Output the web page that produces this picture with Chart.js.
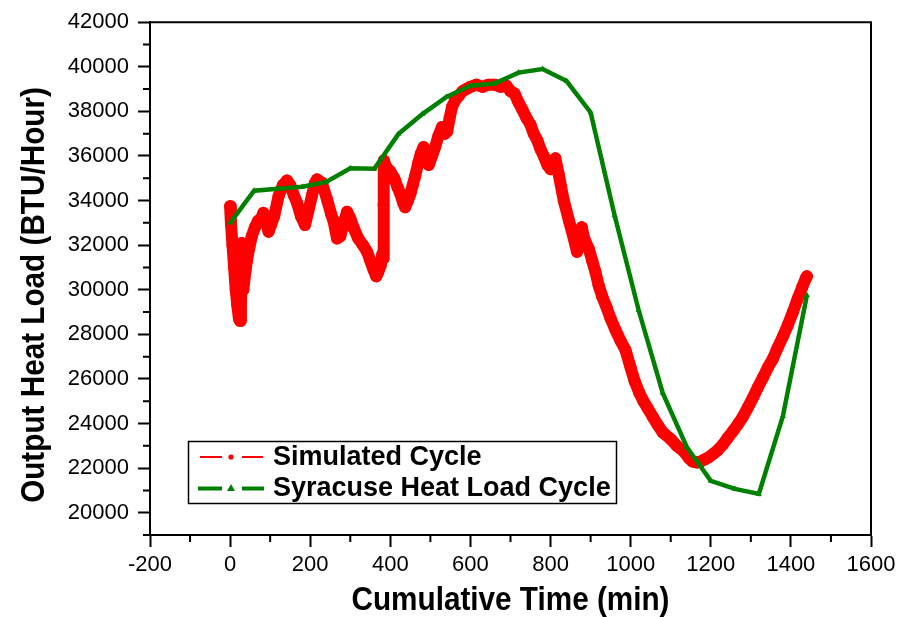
<!DOCTYPE html>
<html>
<head>
<meta charset="utf-8">
<script src="https://cdn.jsdelivr.net/npm/chart.js@4"></script>
<style>
  body { margin: 0; background: #fff; }
  canvas { display: block; }
</style>
</head>
<body>
<canvas id="heatChart" width="901" height="617"></canvas>
<script>
// Syracuse hourly heat load (min, BTU/Hour)
const syrTime = [0, 60, 120, 180, 240, 300, 360, 420, 480, 540, 600, 660, 720,
                 780, 840, 900, 960, 1020, 1080, 1140, 1200, 1260, 1320, 1380, 1440];
const syrLoad = [33000, 34440, 34530, 34620, 34840, 35450, 35430, 36980, 37880, 38650, 39150, 39250, 39740,
                 39900, 39360, 37950, 33330, 29080, 25370, 22950, 21430, 21070, 20840, 24330, 29750];

// Simulated cycle, read along the red band
const simTime = [0, 2, 6, 10, 14, 18, 22, 25, 27, 28, 29, 30, 33, 38, 42, 48, 54, 62, 70, 78,
                 83, 90, 96, 102, 110, 121, 132, 142, 150, 160, 167, 177, 187, 195, 204, 212, 217, 229, 242, 252,
                 258, 267, 275, 284, 292, 300, 310, 320, 332, 342, 350, 358, 365, 370, 376, 380, 382, 383, 384, 390,
                 400, 410, 418, 425, 432, 437, 444, 450, 456, 462, 470, 476, 483, 490, 496, 504, 512, 520, 529, 536,
                 542, 548, 554, 562, 571, 580, 590, 600, 615, 630, 645, 660, 675, 690, 700, 710, 720, 729, 740, 750,
                 758, 767, 775, 783, 792, 800, 805, 812, 820, 833, 846, 858, 866, 872, 878, 884, 896, 904, 912, 920,
                 929, 940, 950, 962, 975, 987, 1000, 1010, 1021, 1032, 1042, 1055, 1067, 1080, 1100, 1115, 1133, 1145, 1154, 1165,
                 1175, 1186, 1196, 1207, 1217, 1230, 1242, 1255, 1267, 1280, 1292, 1305, 1317, 1330, 1342, 1355, 1367, 1380, 1392, 1405,
                 1417, 1428, 1437, 1440];
const simLoad = [33750, 33000, 32000, 31000, 30000, 29300, 28700, 28600, 29500, 30000, 32100, 30200, 30000, 30800, 31300, 31900, 32400, 32800, 33100, 33200,
                 33450, 33000, 32600, 32900, 33300, 34200, 34700, 34900, 34700, 34200, 33900, 33300, 32900, 33500, 34200, 34800, 34950, 34800, 34050, 33400,
                 33100, 32300, 32400, 33000, 33500, 33200, 32700, 32300, 32000, 31700, 31300, 30900, 30600, 30800, 31100, 31600, 31400, 33800, 35800, 35500,
                 35300, 35000, 34600, 34300, 33900, 33700, 34000, 34300, 34700, 35100, 35700, 36100, 36400, 35900, 35600, 36000, 36400, 36900, 37300, 37000,
                 37100, 37700, 38200, 38500, 38700, 38900, 39000, 39100, 39200, 39100, 39200, 39200, 39100, 39150, 38900, 38800, 38400, 38100, 37700, 37400,
                 37000, 36700, 36300, 36000, 35600, 35400, 35500, 35900, 35200, 34000, 33100, 32300, 31700, 32400, 32800, 32300, 31800, 31300, 30800, 30200,
                 29700, 29200, 28700, 28200, 27700, 27300, 26500, 25900, 25400, 25000, 24700, 24300, 23950, 23600, 23300, 23000, 22750, 22450, 22300, 22250,
                 22300, 22400, 22500, 22650, 22800, 23050, 23350, 23650, 23950, 24300, 24700, 25150, 25600, 26050, 26500, 26900, 27400, 27900, 28400, 29000,
                 29600, 30100, 30500, 30600];

const xMajor = [-200, 0, 200, 400, 600, 800, 1000, 1200, 1400, 1600];
const xMinor = [-100, 100, 300, 500, 700, 900, 1100, 1300, 1500];
const yMajor = [20000, 22000, 24000, 26000, 28000, 30000, 32000, 34000, 36000, 38000, 40000, 42000];
const yMinor = [19000, 21000, 23000, 25000, 27000, 29000, 31000, 33000, 35000, 37000, 39000, 41000];

const seriesNames = ['Simulated Cycle', 'Syracuse Heat Load Cycle'];
const RED = '#ff0000';
const GREEN = '#008000';
const FONT = "'Liberation Sans', Arial, sans-serif";

// frame, minor ticks, axis titles and Origin-style legend
const decor = {
    id: 'decor',
    afterDraw(chart) {
        const { ctx, chartArea: a, scales: { x, y } } = chart;
        ctx.save();
        ctx.strokeStyle = '#000';
        ctx.lineWidth = 2;
        ctx.beginPath();
        ctx.moveTo(a.left, a.top);
        ctx.lineTo(a.right, a.top);
        ctx.lineTo(a.right, a.bottom);
        ctx.stroke();

        ctx.beginPath();
        xMinor.forEach(v => {
            const px = x.getPixelForValue(v);
            ctx.moveTo(px, a.bottom);
            ctx.lineTo(px, a.bottom + 7);
        });
        yMinor.forEach(v => {
            const py = y.getPixelForValue(v);
            ctx.moveTo(a.left, py);
            ctx.lineTo(a.left - 7, py);
        });
        ctx.stroke();

        // axis titles (narrow bold lettering)
        ctx.fillStyle = '#000';
        ctx.font = 'bold 33px ' + FONT;
        ctx.textAlign = 'center';
        ctx.textBaseline = 'middle';
        ctx.save();
        ctx.translate((a.left + a.right) / 2, 601);
        ctx.scale(0.9, 1);
        ctx.fillText('Cumulative Time (min)', 0, 0);
        ctx.restore();
        ctx.save();
        ctx.translate(35, 295);
        ctx.rotate(-Math.PI / 2);
        ctx.scale(0.9, 1);
        ctx.fillText('Output Heat Load (BTU/Hour)', 0, 0);
        ctx.restore();

        // legend
        ctx.fillStyle = '#fff';
        ctx.fillRect(189, 441, 428, 62);
        ctx.lineWidth = 1.5;
        ctx.strokeRect(188.5, 441.5, 428, 62);

        ctx.strokeStyle = RED;
        ctx.lineWidth = 2;
        ctx.beginPath();
        ctx.moveTo(200, 457); ctx.lineTo(222, 457);
        ctx.moveTo(242, 457); ctx.lineTo(263, 457);
        ctx.stroke();
        ctx.fillStyle = RED;
        ctx.beginPath();
        ctx.arc(231, 457, 2.6, 0, Math.PI * 2);
        ctx.fill();

        ctx.strokeStyle = GREEN;
        ctx.lineWidth = 4;
        ctx.beginPath();
        ctx.moveTo(198, 488.5); ctx.lineTo(222, 488.5);
        ctx.moveTo(242, 488.5); ctx.lineTo(264, 488.5);
        ctx.stroke();
        ctx.fillStyle = GREEN;
        ctx.beginPath();
        ctx.moveTo(231, 484); ctx.lineTo(235, 491); ctx.lineTo(227, 491);
        ctx.closePath();
        ctx.fill();

        ctx.fillStyle = '#000';
        ctx.font = 'bold 27px ' + FONT;
        ctx.textAlign = 'left';
        ctx.textBaseline = 'middle';
        ctx.fillText(seriesNames[0], 273, 458);
        ctx.fillText(seriesNames[1], 273, 489);
        ctx.restore();
    }
};

const ctx = document.getElementById('heatChart').getContext('2d');
new Chart(ctx, {
    type: 'line',
    data: {
        datasets: [
            {
                label: seriesNames[1],
                data: syrTime.map((t, i) => ({ x: t, y: syrLoad[i] })),
                borderColor: GREEN,
                backgroundColor: GREEN,
                borderWidth: 4.5,
                pointStyle: 'triangle',
                pointRadius: 3.5,
                pointBorderWidth: 0,
                tension: 0,
                order: 0
            },
            {
                label: seriesNames[0],
                data: simTime.map((t, i) => ({ x: t, y: simLoad[i] })),
                borderColor: RED,
                backgroundColor: RED,
                borderWidth: 12,
                borderJoinStyle: 'round',
                borderCapStyle: 'round',
                pointRadius: 6,
                pointBorderWidth: 0,
                tension: 0,
                order: 1
            }
        ]
    },
    options: {
        responsive: false,
        animation: false,
        devicePixelRatio: 1,
        layout: { padding: { left: 0, top: 18, right: 30, bottom: 0 } },
        plugins: { legend: { display: false }, tooltip: { enabled: false } },
        scales: {
            x: {
                type: 'linear',
                min: -200,
                max: 1600,
                afterBuildTicks: s => { s.ticks = xMajor.map(v => ({ value: v })); },
                afterFit: s => { s.height = 82; },
                grid: { drawOnChartArea: false, color: '#000', tickLength: 12, tickWidth: 2 },
                border: { color: '#000', width: 2 },
                ticks: { color: '#000', padding: 5, maxRotation: 0, font: { family: FONT, size: 22 },
                         callback: v => String(v) }
            },
            y: {
                type: 'linear',
                min: 19000,
                max: 42000,
                afterBuildTicks: s => { s.ticks = yMajor.map(v => ({ value: v })); },
                afterFit: s => { s.width = 150; },
                grid: { drawOnChartArea: false, color: '#000', tickLength: 12, tickWidth: 2 },
                border: { color: '#000', width: 2 },
                ticks: { color: '#000', padding: 9, font: { family: FONT, size: 22 },
                         callback: v => String(v) }
            }
        }
    },
    plugins: [decor]
});
</script>
</body>
</html>
